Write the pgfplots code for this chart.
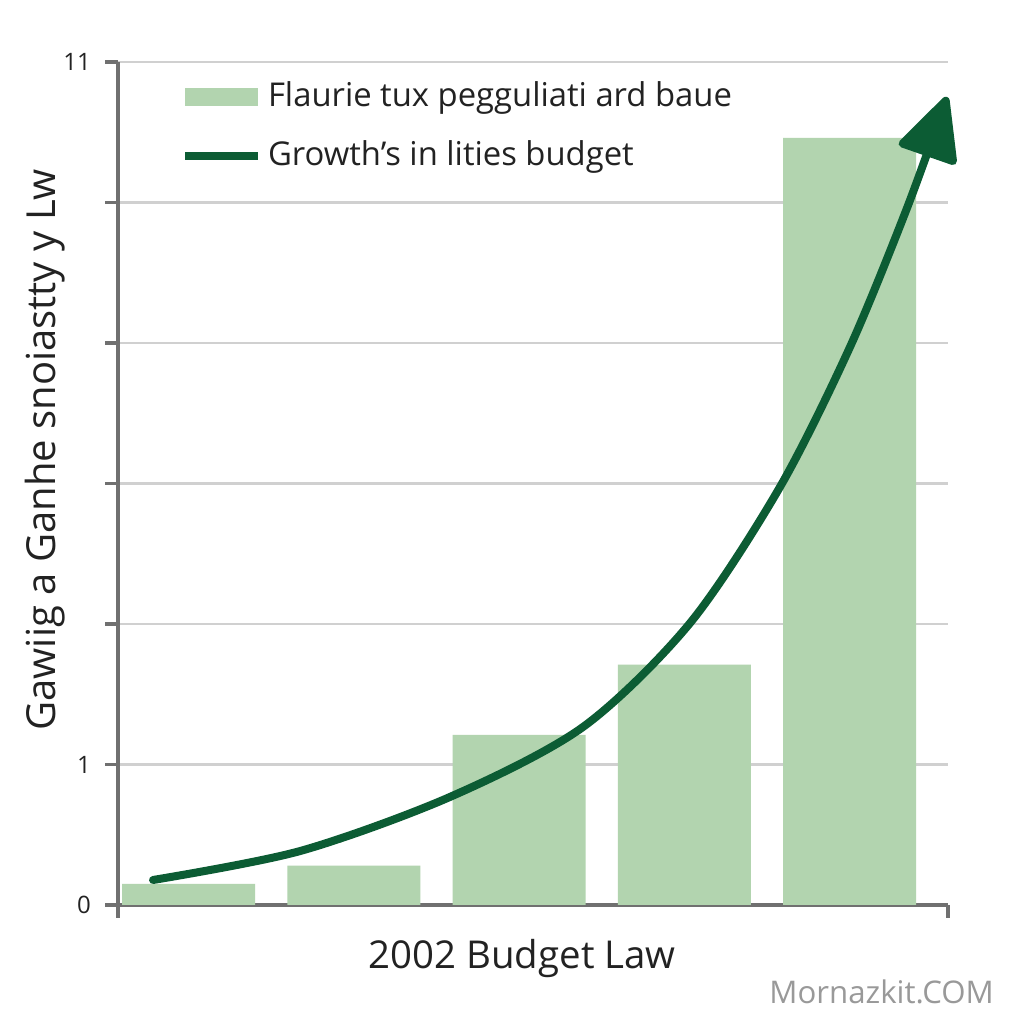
\documentclass[border=0pt]{standalone}
\usepackage{pgfplots}
\pgfplotsset{compat=1.18}
\usepackage{fontspec}
\setmainfont{Open Sans}
\usetikzlibrary{arrows.meta}
\definecolor{lgreen}{RGB}{178,212,175}
\definecolor{dgreen}{RGB}{12,92,52}
\definecolor{axgray}{RGB}{112,112,112}
\definecolor{gridgray}{RGB}{208,208,208}
\definecolor{txt}{RGB}{34,34,34}
\begin{document}
\begin{tikzpicture}
\useasboundingbox (0,0) rectangle (256pt,256pt);
\fill[white] (0,0) rectangle (256pt,256pt);
\begin{axis}[
  at={(29.5pt,29.75pt)}, anchor=south west,
  scale only axis, width=207.5pt, height=210.75pt,
  xmin=0.573, xmax=5.596, ymin=0, ymax=6,
  axis x line*=bottom, axis y line*=left,
  axis line style={axgray, line width=1pt},
  xtick={0.573,5.596}, xticklabels={,},
  ytick={0,1,2,3,4,5,6}, yticklabels={0,1,,,,,11},
  tick align=outside, major tick length=3.25pt,
  tick style={axgray, line width=0.8pt},
  ymajorgrids, grid style={gridgray, line width=0.6pt},
  yticklabel style={font=\fontsize{6}{7}\selectfont, text=txt},
  /pgf/number format/assume math mode=true,
  xlabel={2002 Budget Law},
  xlabel style={at={(axis description cs:0.487,-0.063)}, anchor=center, font=\fontsize{9.6}{11}\selectfont, text=txt},
  ylabel={Gawiig a Ganhe snoiastty y Lw},
  ylabel style={at={(axis description cs:-0.088,0.54)}, anchor=center, font=\fontsize{10}{12}\selectfont, text=txt},
  legend style={draw=none, fill=none, at={(axis description cs:0.075,0.985)}, anchor=north west,
    inner sep=0pt, row sep=4pt, font=\fontsize{8.2}{10}\selectfont, text=txt,
    nodes={inner sep=1.5pt}},
  legend cell align=left,
  clip=false,
]
\addplot[ybar, bar width=0.805, bar shift=0pt, fill=lgreen, draw=none,
  legend image code/.code={\fill[lgreen] (0pt,-2.2pt) rectangle (18.25pt,2.2pt);}]
  coordinates {(1,0.15) (2,0.28) (3,1.21) (4,1.71) (5,5.46)};
\addlegendentry{Flaurie tux pegguliati ard baue}
\addplot[smooth, line width=2pt, dgreen, line cap=round,
  -{Triangle[length=17pt,width=16pt,round]},
  legend image code/.code={\draw[-, line width=2pt, line cap=butt, dgreen] (0pt,0pt) -- (18.25pt,0pt);}]
  coordinates {(0.785,0.178) (1.675,0.384) (2.582,0.769) (3.387,1.267) (4.035,2.007) (4.579,2.975) (5.003,3.972) (5.348,4.961) (5.590,5.751)};
\addlegendentry{Growth's in lities budget}
\node[font=\fontsize{7.8}{9}\selectfont, text=gray!80] at (axis description cs:0.920,-0.103) {Mornazkit.COM};
\end{axis}
\end{tikzpicture}
\end{document}
